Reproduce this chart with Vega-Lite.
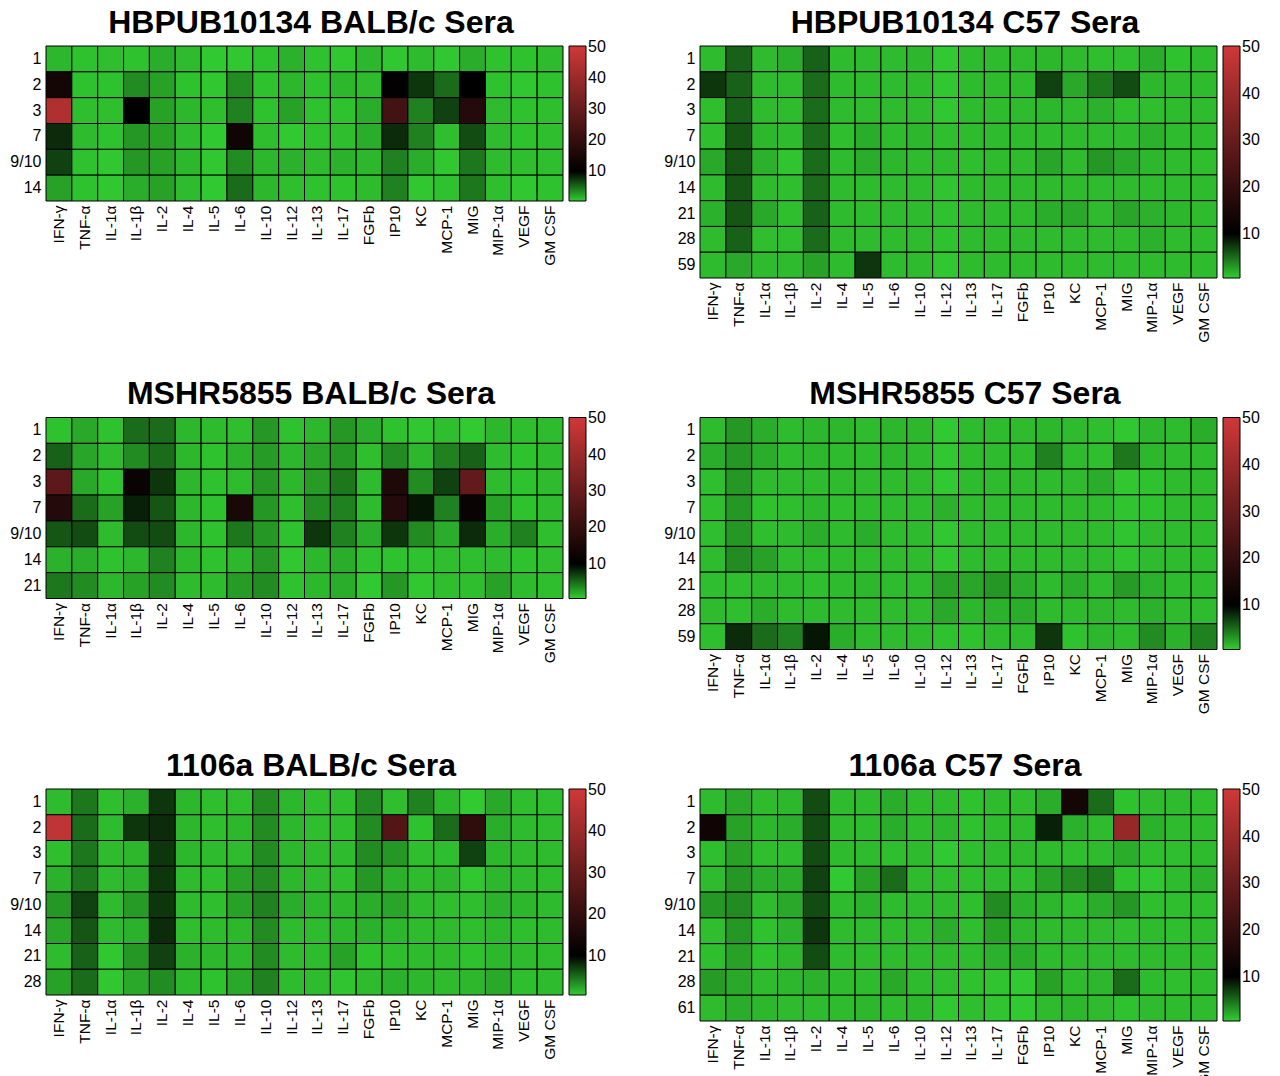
{
  "$schema": "https://vega.github.io/schema/vega-lite/v6.json",
  "background": "white",
  "padding": {"left": 9, "top": 6, "right": 0, "bottom": 0},
  "config": {
    "font": "Liberation Sans",
    "view": {"stroke": null},
    "axis": {"labelColor": "#000", "ticks": false, "domain": false, "grid": false, "title": null},
    "axisX": {"labelAngle": 270, "labelFontSize": 15.5, "labelPadding": 4},
    "axisY": {"labelFontSize": 16, "labelPadding": 5},
    "title": {"fontSize": 32, "fontWeight": "bold", "color": "#000", "offset": 6, "dx": 6.5},
    "legend": {"title": null, "padding": 0, "offset": 6, "labelFontSize": 16, "labelColor": "#000", "labelOffset": 5, "labelOverlap": false, "labelBaseline": "middle", "gradientThickness": 17, "gradientStrokeColor": "#000", "gradientStrokeWidth": 1}
  },
  "datasets": {
    "hbBalb": [
      {"day":"1","cyt":"IFN-γ","v":1.5},{"day":"1","cyt":"TNF-α","v":1},{"day":"1","cyt":"IL-1α","v":1.2},{"day":"1","cyt":"IL-1β","v":1},{"day":"1","cyt":"IL-2","v":2},{"day":"1","cyt":"IL-4","v":1.3},{"day":"1","cyt":"IL-5","v":0.7},{"day":"1","cyt":"IL-6","v":0.8},{"day":"1","cyt":"IL-10","v":1},{"day":"1","cyt":"IL-12","v":1.8},{"day":"1","cyt":"IL-13","v":1},{"day":"1","cyt":"IL-17","v":0.8},{"day":"1","cyt":"FGFb","v":1.5},{"day":"1","cyt":"IP10","v":0.8},{"day":"1","cyt":"KC","v":1.3},{"day":"1","cyt":"MCP-1","v":0.8},{"day":"1","cyt":"MIG","v":2},{"day":"1","cyt":"MIP-1α","v":1},{"day":"1","cyt":"VEGF","v":1},{"day":"1","cyt":"GM CSF","v":1.3},
      {"day":"2","cyt":"IFN-γ","v":14},{"day":"2","cyt":"TNF-α","v":1},{"day":"2","cyt":"IL-1α","v":1},{"day":"2","cyt":"IL-1β","v":3.5},{"day":"2","cyt":"IL-2","v":2.5},{"day":"2","cyt":"IL-4","v":1},{"day":"2","cyt":"IL-5","v":0.8},{"day":"2","cyt":"IL-6","v":3.5},{"day":"2","cyt":"IL-10","v":1},{"day":"2","cyt":"IL-12","v":1.5},{"day":"2","cyt":"IL-13","v":1},{"day":"2","cyt":"IL-17","v":1.5},{"day":"2","cyt":"FGFb","v":1.3},{"day":"2","cyt":"IP10","v":10.5},{"day":"2","cyt":"KC","v":7.5},{"day":"2","cyt":"MCP-1","v":5},{"day":"2","cyt":"MIG","v":10},{"day":"2","cyt":"MIP-1α","v":1},{"day":"2","cyt":"VEGF","v":0.8},{"day":"2","cyt":"GM CSF","v":1},
      {"day":"3","cyt":"IFN-γ","v":44},{"day":"3","cyt":"TNF-α","v":1.2},{"day":"3","cyt":"IL-1α","v":1.2},{"day":"3","cyt":"IL-1β","v":10},{"day":"3","cyt":"IL-2","v":2.5},{"day":"3","cyt":"IL-4","v":1.5},{"day":"3","cyt":"IL-5","v":1.2},{"day":"3","cyt":"IL-6","v":4},{"day":"3","cyt":"IL-10","v":1},{"day":"3","cyt":"IL-12","v":2.5},{"day":"3","cyt":"IL-13","v":1},{"day":"3","cyt":"IL-17","v":1},{"day":"3","cyt":"FGFb","v":2},{"day":"3","cyt":"IP10","v":23},{"day":"3","cyt":"KC","v":4},{"day":"3","cyt":"MCP-1","v":7},{"day":"3","cyt":"MIG","v":17},{"day":"3","cyt":"MIP-1α","v":1.3},{"day":"3","cyt":"VEGF","v":1},{"day":"3","cyt":"GM CSF","v":1.2},
      {"day":"7","cyt":"IFN-γ","v":8},{"day":"7","cyt":"TNF-α","v":1.3},{"day":"7","cyt":"IL-1α","v":1},{"day":"7","cyt":"IL-1β","v":3},{"day":"7","cyt":"IL-2","v":2.5},{"day":"7","cyt":"IL-4","v":1.3},{"day":"7","cyt":"IL-5","v":0.7},{"day":"7","cyt":"IL-6","v":13},{"day":"7","cyt":"IL-10","v":1.2},{"day":"7","cyt":"IL-12","v":0.7},{"day":"7","cyt":"IL-13","v":1},{"day":"7","cyt":"IL-17","v":1.2},{"day":"7","cyt":"FGFb","v":2},{"day":"7","cyt":"IP10","v":8},{"day":"7","cyt":"KC","v":4},{"day":"7","cyt":"MCP-1","v":1.2},{"day":"7","cyt":"MIG","v":6.5},{"day":"7","cyt":"MIP-1α","v":1.3},{"day":"7","cyt":"VEGF","v":1},{"day":"7","cyt":"GM CSF","v":1.2},
      {"day":"9/10","cyt":"IFN-γ","v":7},{"day":"9/10","cyt":"TNF-α","v":1},{"day":"9/10","cyt":"IL-1α","v":0.8},{"day":"9/10","cyt":"IL-1β","v":3},{"day":"9/10","cyt":"IL-2","v":2.5},{"day":"9/10","cyt":"IL-4","v":1.5},{"day":"9/10","cyt":"IL-5","v":0.8},{"day":"9/10","cyt":"IL-6","v":3.5},{"day":"9/10","cyt":"IL-10","v":1.5},{"day":"9/10","cyt":"IL-12","v":1.8},{"day":"9/10","cyt":"IL-13","v":1.3},{"day":"9/10","cyt":"IL-17","v":1.8},{"day":"9/10","cyt":"FGFb","v":1.5},{"day":"9/10","cyt":"IP10","v":4},{"day":"9/10","cyt":"KC","v":2},{"day":"9/10","cyt":"MCP-1","v":0.8},{"day":"9/10","cyt":"MIG","v":4.5},{"day":"9/10","cyt":"MIP-1α","v":1.3},{"day":"9/10","cyt":"VEGF","v":1.2},{"day":"9/10","cyt":"GM CSF","v":1.2},
      {"day":"14","cyt":"IFN-γ","v":2.5},{"day":"14","cyt":"TNF-α","v":1},{"day":"14","cyt":"IL-1α","v":0.8},{"day":"14","cyt":"IL-1β","v":2},{"day":"14","cyt":"IL-2","v":2.5},{"day":"14","cyt":"IL-4","v":1.3},{"day":"14","cyt":"IL-5","v":0.7},{"day":"14","cyt":"IL-6","v":5},{"day":"14","cyt":"IL-10","v":1.5},{"day":"14","cyt":"IL-12","v":1.2},{"day":"14","cyt":"IL-13","v":1},{"day":"14","cyt":"IL-17","v":1},{"day":"14","cyt":"FGFb","v":1.3},{"day":"14","cyt":"IP10","v":4},{"day":"14","cyt":"KC","v":0.8},{"day":"14","cyt":"MCP-1","v":1},{"day":"14","cyt":"MIG","v":4.5},{"day":"14","cyt":"MIP-1α","v":1.2},{"day":"14","cyt":"VEGF","v":0.8},{"day":"14","cyt":"GM CSF","v":1}
    ],
    "hbC57": [
      {"day":"1","cyt":"IFN-γ","v":1.3},{"day":"1","cyt":"TNF-α","v":5.5},{"day":"1","cyt":"IL-1α","v":1.3},{"day":"1","cyt":"IL-1β","v":2},{"day":"1","cyt":"IL-2","v":5.5},{"day":"1","cyt":"IL-4","v":1.3},{"day":"1","cyt":"IL-5","v":1.3},{"day":"1","cyt":"IL-6","v":1.3},{"day":"1","cyt":"IL-10","v":1.5},{"day":"1","cyt":"IL-12","v":0.7},{"day":"1","cyt":"IL-13","v":1.3},{"day":"1","cyt":"IL-17","v":1.3},{"day":"1","cyt":"FGFb","v":1.3},{"day":"1","cyt":"IP10","v":1.5},{"day":"1","cyt":"KC","v":1.3},{"day":"1","cyt":"MCP-1","v":1.2},{"day":"1","cyt":"MIG","v":1.2},{"day":"1","cyt":"MIP-1α","v":2},{"day":"1","cyt":"VEGF","v":1},{"day":"1","cyt":"GM CSF","v":1.3},
      {"day":"2","cyt":"IFN-γ","v":7.5},{"day":"2","cyt":"TNF-α","v":5.5},{"day":"2","cyt":"IL-1α","v":1.3},{"day":"2","cyt":"IL-1β","v":1.3},{"day":"2","cyt":"IL-2","v":5},{"day":"2","cyt":"IL-4","v":1.3},{"day":"2","cyt":"IL-5","v":1.3},{"day":"2","cyt":"IL-6","v":1.3},{"day":"2","cyt":"IL-10","v":1.3},{"day":"2","cyt":"IL-12","v":0.8},{"day":"2","cyt":"IL-13","v":1.3},{"day":"2","cyt":"IL-17","v":1.3},{"day":"2","cyt":"FGFb","v":1.3},{"day":"2","cyt":"IP10","v":7},{"day":"2","cyt":"KC","v":2.2},{"day":"2","cyt":"MCP-1","v":4.5},{"day":"2","cyt":"MIG","v":6.5},{"day":"2","cyt":"MIP-1α","v":1.5},{"day":"2","cyt":"VEGF","v":1.3},{"day":"2","cyt":"GM CSF","v":1.3},
      {"day":"3","cyt":"IFN-γ","v":1.2},{"day":"3","cyt":"TNF-α","v":5.5},{"day":"3","cyt":"IL-1α","v":1.3},{"day":"3","cyt":"IL-1β","v":1.3},{"day":"3","cyt":"IL-2","v":5},{"day":"3","cyt":"IL-4","v":1.3},{"day":"3","cyt":"IL-5","v":1.3},{"day":"3","cyt":"IL-6","v":1.3},{"day":"3","cyt":"IL-10","v":1.3},{"day":"3","cyt":"IL-12","v":0.8},{"day":"3","cyt":"IL-13","v":1.3},{"day":"3","cyt":"IL-17","v":1.3},{"day":"3","cyt":"FGFb","v":1.3},{"day":"3","cyt":"IP10","v":1.5},{"day":"3","cyt":"KC","v":1.3},{"day":"3","cyt":"MCP-1","v":1.8},{"day":"3","cyt":"MIG","v":1.2},{"day":"3","cyt":"MIP-1α","v":1.2},{"day":"3","cyt":"VEGF","v":1.3},{"day":"3","cyt":"GM CSF","v":1.3},
      {"day":"7","cyt":"IFN-γ","v":1.2},{"day":"7","cyt":"TNF-α","v":6},{"day":"7","cyt":"IL-1α","v":1.5},{"day":"7","cyt":"IL-1β","v":1.3},{"day":"7","cyt":"IL-2","v":5},{"day":"7","cyt":"IL-4","v":1.2},{"day":"7","cyt":"IL-5","v":2},{"day":"7","cyt":"IL-6","v":1.3},{"day":"7","cyt":"IL-10","v":1.5},{"day":"7","cyt":"IL-12","v":1.2},{"day":"7","cyt":"IL-13","v":1.3},{"day":"7","cyt":"IL-17","v":1.3},{"day":"7","cyt":"FGFb","v":1.3},{"day":"7","cyt":"IP10","v":1.3},{"day":"7","cyt":"KC","v":1.3},{"day":"7","cyt":"MCP-1","v":1.3},{"day":"7","cyt":"MIG","v":1.3},{"day":"7","cyt":"MIP-1α","v":1.8},{"day":"7","cyt":"VEGF","v":1.3},{"day":"7","cyt":"GM CSF","v":1.3},
      {"day":"9/10","cyt":"IFN-γ","v":2.2},{"day":"9/10","cyt":"TNF-α","v":6},{"day":"9/10","cyt":"IL-1α","v":1.8},{"day":"9/10","cyt":"IL-1β","v":0.9},{"day":"9/10","cyt":"IL-2","v":5},{"day":"9/10","cyt":"IL-4","v":1.3},{"day":"9/10","cyt":"IL-5","v":2},{"day":"9/10","cyt":"IL-6","v":1.5},{"day":"9/10","cyt":"IL-10","v":1.3},{"day":"9/10","cyt":"IL-12","v":1.3},{"day":"9/10","cyt":"IL-13","v":1.2},{"day":"9/10","cyt":"IL-17","v":1.3},{"day":"9/10","cyt":"FGFb","v":1.3},{"day":"9/10","cyt":"IP10","v":2.3},{"day":"9/10","cyt":"KC","v":1.3},{"day":"9/10","cyt":"MCP-1","v":3},{"day":"9/10","cyt":"MIG","v":2.2},{"day":"9/10","cyt":"MIP-1α","v":1.5},{"day":"9/10","cyt":"VEGF","v":1.3},{"day":"9/10","cyt":"GM CSF","v":1.2},
      {"day":"14","cyt":"IFN-γ","v":1.3},{"day":"14","cyt":"TNF-α","v":6},{"day":"14","cyt":"IL-1α","v":1.3},{"day":"14","cyt":"IL-1β","v":1.2},{"day":"14","cyt":"IL-2","v":5},{"day":"14","cyt":"IL-4","v":1.3},{"day":"14","cyt":"IL-5","v":1.3},{"day":"14","cyt":"IL-6","v":1.3},{"day":"14","cyt":"IL-10","v":1.3},{"day":"14","cyt":"IL-12","v":0.9},{"day":"14","cyt":"IL-13","v":1.3},{"day":"14","cyt":"IL-17","v":1.3},{"day":"14","cyt":"FGFb","v":1.3},{"day":"14","cyt":"IP10","v":1.3},{"day":"14","cyt":"KC","v":1.3},{"day":"14","cyt":"MCP-1","v":1.3},{"day":"14","cyt":"MIG","v":1.3},{"day":"14","cyt":"MIP-1α","v":1.3},{"day":"14","cyt":"VEGF","v":1.3},{"day":"14","cyt":"GM CSF","v":1.3},
      {"day":"21","cyt":"IFN-γ","v":1.8},{"day":"21","cyt":"TNF-α","v":6},{"day":"21","cyt":"IL-1α","v":2.2},{"day":"21","cyt":"IL-1β","v":1.2},{"day":"21","cyt":"IL-2","v":5.5},{"day":"21","cyt":"IL-4","v":1.3},{"day":"21","cyt":"IL-5","v":1.3},{"day":"21","cyt":"IL-6","v":1.3},{"day":"21","cyt":"IL-10","v":1.3},{"day":"21","cyt":"IL-12","v":1},{"day":"21","cyt":"IL-13","v":1.3},{"day":"21","cyt":"IL-17","v":1.3},{"day":"21","cyt":"FGFb","v":1.3},{"day":"21","cyt":"IP10","v":2},{"day":"21","cyt":"KC","v":2.2},{"day":"21","cyt":"MCP-1","v":1.3},{"day":"21","cyt":"MIG","v":2.3},{"day":"21","cyt":"MIP-1α","v":1.8},{"day":"21","cyt":"VEGF","v":1.5},{"day":"21","cyt":"GM CSF","v":1.3},
      {"day":"28","cyt":"IFN-γ","v":1.3},{"day":"28","cyt":"TNF-α","v":5.5},{"day":"28","cyt":"IL-1α","v":1.2},{"day":"28","cyt":"IL-1β","v":1.2},{"day":"28","cyt":"IL-2","v":5},{"day":"28","cyt":"IL-4","v":1.3},{"day":"28","cyt":"IL-5","v":1.3},{"day":"28","cyt":"IL-6","v":1.3},{"day":"28","cyt":"IL-10","v":1.3},{"day":"28","cyt":"IL-12","v":1},{"day":"28","cyt":"IL-13","v":1.3},{"day":"28","cyt":"IL-17","v":1.3},{"day":"28","cyt":"FGFb","v":1.3},{"day":"28","cyt":"IP10","v":1.3},{"day":"28","cyt":"KC","v":1.3},{"day":"28","cyt":"MCP-1","v":1.3},{"day":"28","cyt":"MIG","v":1.3},{"day":"28","cyt":"MIP-1α","v":1.8},{"day":"28","cyt":"VEGF","v":1.3},{"day":"28","cyt":"GM CSF","v":1.3},
      {"day":"59","cyt":"IFN-γ","v":1.3},{"day":"59","cyt":"TNF-α","v":2.2},{"day":"59","cyt":"IL-1α","v":1.3},{"day":"59","cyt":"IL-1β","v":1.3},{"day":"59","cyt":"IL-2","v":2.5},{"day":"59","cyt":"IL-4","v":1.3},{"day":"59","cyt":"IL-5","v":7.5},{"day":"59","cyt":"IL-6","v":1.3},{"day":"59","cyt":"IL-10","v":1.3},{"day":"59","cyt":"IL-12","v":0.8},{"day":"59","cyt":"IL-13","v":1.3},{"day":"59","cyt":"IL-17","v":1.3},{"day":"59","cyt":"FGFb","v":1.3},{"day":"59","cyt":"IP10","v":1.3},{"day":"59","cyt":"KC","v":1.3},{"day":"59","cyt":"MCP-1","v":1.3},{"day":"59","cyt":"MIG","v":1.3},{"day":"59","cyt":"MIP-1α","v":1.3},{"day":"59","cyt":"VEGF","v":1.3},{"day":"59","cyt":"GM CSF","v":1.3}
    ],
    "mshrBalb": [
      {"day":"1","cyt":"IFN-γ","v":1},{"day":"1","cyt":"TNF-α","v":2.2},{"day":"1","cyt":"IL-1α","v":1},{"day":"1","cyt":"IL-1β","v":5},{"day":"1","cyt":"IL-2","v":5},{"day":"1","cyt":"IL-4","v":1.5},{"day":"1","cyt":"IL-5","v":1.3},{"day":"1","cyt":"IL-6","v":1.2},{"day":"1","cyt":"IL-10","v":3},{"day":"1","cyt":"IL-12","v":1},{"day":"1","cyt":"IL-13","v":1.5},{"day":"1","cyt":"IL-17","v":3},{"day":"1","cyt":"FGFb","v":2},{"day":"1","cyt":"IP10","v":1},{"day":"1","cyt":"KC","v":0.8},{"day":"1","cyt":"MCP-1","v":1.2},{"day":"1","cyt":"MIG","v":0.6},{"day":"1","cyt":"MIP-1α","v":1.5},{"day":"1","cyt":"VEGF","v":1.2},{"day":"1","cyt":"GM CSF","v":1.3},
      {"day":"2","cyt":"IFN-γ","v":5.5},{"day":"2","cyt":"TNF-α","v":2.3},{"day":"2","cyt":"IL-1α","v":1.3},{"day":"2","cyt":"IL-1β","v":3.5},{"day":"2","cyt":"IL-2","v":5},{"day":"2","cyt":"IL-4","v":1.5},{"day":"2","cyt":"IL-5","v":1},{"day":"2","cyt":"IL-6","v":1.8},{"day":"2","cyt":"IL-10","v":2.8},{"day":"2","cyt":"IL-12","v":1.5},{"day":"2","cyt":"IL-13","v":2.3},{"day":"2","cyt":"IL-17","v":3},{"day":"2","cyt":"FGFb","v":1.2},{"day":"2","cyt":"IP10","v":3.5},{"day":"2","cyt":"KC","v":1.5},{"day":"2","cyt":"MCP-1","v":4},{"day":"2","cyt":"MIG","v":5.5},{"day":"2","cyt":"MIP-1α","v":1.3},{"day":"2","cyt":"VEGF","v":1},{"day":"2","cyt":"GM CSF","v":1.3},
      {"day":"3","cyt":"IFN-γ","v":28},{"day":"3","cyt":"TNF-α","v":2.2},{"day":"3","cyt":"IL-1α","v":1},{"day":"3","cyt":"IL-1β","v":12},{"day":"3","cyt":"IL-2","v":7.5},{"day":"3","cyt":"IL-4","v":1.5},{"day":"3","cyt":"IL-5","v":1},{"day":"3","cyt":"IL-6","v":1.3},{"day":"3","cyt":"IL-10","v":3},{"day":"3","cyt":"IL-12","v":1.5},{"day":"3","cyt":"IL-13","v":2.8},{"day":"3","cyt":"IL-17","v":4.5},{"day":"3","cyt":"FGFb","v":1.3},{"day":"3","cyt":"IP10","v":16},{"day":"3","cyt":"KC","v":3.5},{"day":"3","cyt":"MCP-1","v":7},{"day":"3","cyt":"MIG","v":29},{"day":"3","cyt":"MIP-1α","v":1.3},{"day":"3","cyt":"VEGF","v":1},{"day":"3","cyt":"GM CSF","v":1.3},
      {"day":"7","cyt":"IFN-γ","v":17},{"day":"7","cyt":"TNF-α","v":5},{"day":"7","cyt":"IL-1α","v":2.5},{"day":"7","cyt":"IL-1β","v":8.5},{"day":"7","cyt":"IL-2","v":6},{"day":"7","cyt":"IL-4","v":1.5},{"day":"7","cyt":"IL-5","v":1},{"day":"7","cyt":"IL-6","v":15},{"day":"7","cyt":"IL-10","v":3},{"day":"7","cyt":"IL-12","v":1.2},{"day":"7","cyt":"IL-13","v":3.5},{"day":"7","cyt":"IL-17","v":4},{"day":"7","cyt":"FGFb","v":1.3},{"day":"7","cyt":"IP10","v":17},{"day":"7","cyt":"KC","v":9},{"day":"7","cyt":"MCP-1","v":4},{"day":"7","cyt":"MIG","v":12},{"day":"7","cyt":"MIP-1α","v":2.5},{"day":"7","cyt":"VEGF","v":1},{"day":"7","cyt":"GM CSF","v":1.3},
      {"day":"9/10","cyt":"IFN-γ","v":6},{"day":"9/10","cyt":"TNF-α","v":6.5},{"day":"9/10","cyt":"IL-1α","v":1.3},{"day":"9/10","cyt":"IL-1β","v":6.5},{"day":"9/10","cyt":"IL-2","v":6.5},{"day":"9/10","cyt":"IL-4","v":1.5},{"day":"9/10","cyt":"IL-5","v":1},{"day":"9/10","cyt":"IL-6","v":4.5},{"day":"9/10","cyt":"IL-10","v":3},{"day":"9/10","cyt":"IL-12","v":1},{"day":"9/10","cyt":"IL-13","v":7.5},{"day":"9/10","cyt":"IL-17","v":4},{"day":"9/10","cyt":"FGFb","v":2},{"day":"9/10","cyt":"IP10","v":7.5},{"day":"9/10","cyt":"KC","v":3.5},{"day":"9/10","cyt":"MCP-1","v":2},{"day":"9/10","cyt":"MIG","v":8},{"day":"9/10","cyt":"MIP-1α","v":2},{"day":"9/10","cyt":"VEGF","v":4},{"day":"9/10","cyt":"GM CSF","v":1.2},
      {"day":"14","cyt":"IFN-γ","v":1.8},{"day":"14","cyt":"TNF-α","v":2},{"day":"14","cyt":"IL-1α","v":1},{"day":"14","cyt":"IL-1β","v":1.5},{"day":"14","cyt":"IL-2","v":4},{"day":"14","cyt":"IL-4","v":1.5},{"day":"14","cyt":"IL-5","v":1},{"day":"14","cyt":"IL-6","v":1.5},{"day":"14","cyt":"IL-10","v":3},{"day":"14","cyt":"IL-12","v":0.8},{"day":"14","cyt":"IL-13","v":1.5},{"day":"14","cyt":"IL-17","v":2},{"day":"14","cyt":"FGFb","v":1},{"day":"14","cyt":"IP10","v":1},{"day":"14","cyt":"KC","v":1},{"day":"14","cyt":"MCP-1","v":1.2},{"day":"14","cyt":"MIG","v":1.2},{"day":"14","cyt":"MIP-1α","v":1.3},{"day":"14","cyt":"VEGF","v":1},{"day":"14","cyt":"GM CSF","v":1.2},
      {"day":"21","cyt":"IFN-γ","v":4.5},{"day":"21","cyt":"TNF-α","v":3.5},{"day":"21","cyt":"IL-1α","v":1.5},{"day":"21","cyt":"IL-1β","v":2.5},{"day":"21","cyt":"IL-2","v":3.5},{"day":"21","cyt":"IL-4","v":1.3},{"day":"21","cyt":"IL-5","v":1.3},{"day":"21","cyt":"IL-6","v":2.8},{"day":"21","cyt":"IL-10","v":3.5},{"day":"21","cyt":"IL-12","v":1},{"day":"21","cyt":"IL-13","v":1.5},{"day":"21","cyt":"IL-17","v":2},{"day":"21","cyt":"FGFb","v":0.7},{"day":"21","cyt":"IP10","v":3},{"day":"21","cyt":"KC","v":0.8},{"day":"21","cyt":"MCP-1","v":1.2},{"day":"21","cyt":"MIG","v":1.2},{"day":"21","cyt":"MIP-1α","v":2.5},{"day":"21","cyt":"VEGF","v":1.3},{"day":"21","cyt":"GM CSF","v":1.2}
    ],
    "mshrC57": [
      {"day":"1","cyt":"IFN-γ","v":1.3},{"day":"1","cyt":"TNF-α","v":3},{"day":"1","cyt":"IL-1α","v":2},{"day":"1","cyt":"IL-1β","v":1.3},{"day":"1","cyt":"IL-2","v":1.5},{"day":"1","cyt":"IL-4","v":1.5},{"day":"1","cyt":"IL-5","v":1.3},{"day":"1","cyt":"IL-6","v":1.5},{"day":"1","cyt":"IL-10","v":1.5},{"day":"1","cyt":"IL-12","v":0.7},{"day":"1","cyt":"IL-13","v":1.3},{"day":"1","cyt":"IL-17","v":1.3},{"day":"1","cyt":"FGFb","v":1.3},{"day":"1","cyt":"IP10","v":1.5},{"day":"1","cyt":"KC","v":1.3},{"day":"1","cyt":"MCP-1","v":1.2},{"day":"1","cyt":"MIG","v":0.8},{"day":"1","cyt":"MIP-1α","v":1.5},{"day":"1","cyt":"VEGF","v":1.3},{"day":"1","cyt":"GM CSF","v":2},
      {"day":"2","cyt":"IFN-γ","v":2},{"day":"2","cyt":"TNF-α","v":3},{"day":"2","cyt":"IL-1α","v":2},{"day":"2","cyt":"IL-1β","v":1.3},{"day":"2","cyt":"IL-2","v":1.5},{"day":"2","cyt":"IL-4","v":1.3},{"day":"2","cyt":"IL-5","v":1.3},{"day":"2","cyt":"IL-6","v":1.5},{"day":"2","cyt":"IL-10","v":1.3},{"day":"2","cyt":"IL-12","v":0.8},{"day":"2","cyt":"IL-13","v":1.3},{"day":"2","cyt":"IL-17","v":1.3},{"day":"2","cyt":"FGFb","v":1.3},{"day":"2","cyt":"IP10","v":4},{"day":"2","cyt":"KC","v":1.3},{"day":"2","cyt":"MCP-1","v":1.2},{"day":"2","cyt":"MIG","v":4.5},{"day":"2","cyt":"MIP-1α","v":1.5},{"day":"2","cyt":"VEGF","v":1.3},{"day":"2","cyt":"GM CSF","v":1.3},
      {"day":"3","cyt":"IFN-γ","v":1.2},{"day":"3","cyt":"TNF-α","v":3},{"day":"3","cyt":"IL-1α","v":1.3},{"day":"3","cyt":"IL-1β","v":1.3},{"day":"3","cyt":"IL-2","v":1.3},{"day":"3","cyt":"IL-4","v":1.3},{"day":"3","cyt":"IL-5","v":1.3},{"day":"3","cyt":"IL-6","v":1.3},{"day":"3","cyt":"IL-10","v":1.3},{"day":"3","cyt":"IL-12","v":0.7},{"day":"3","cyt":"IL-13","v":1.3},{"day":"3","cyt":"IL-17","v":1.3},{"day":"3","cyt":"FGFb","v":1.3},{"day":"3","cyt":"IP10","v":1.3},{"day":"3","cyt":"KC","v":1.3},{"day":"3","cyt":"MCP-1","v":2},{"day":"3","cyt":"MIG","v":0.8},{"day":"3","cyt":"MIP-1α","v":1},{"day":"3","cyt":"VEGF","v":1.3},{"day":"3","cyt":"GM CSF","v":1.3},
      {"day":"7","cyt":"IFN-γ","v":1.2},{"day":"7","cyt":"TNF-α","v":3},{"day":"7","cyt":"IL-1α","v":1},{"day":"7","cyt":"IL-1β","v":1.2},{"day":"7","cyt":"IL-2","v":1.5},{"day":"7","cyt":"IL-4","v":1.2},{"day":"7","cyt":"IL-5","v":1.3},{"day":"7","cyt":"IL-6","v":1.3},{"day":"7","cyt":"IL-10","v":1.3},{"day":"7","cyt":"IL-12","v":1.8},{"day":"7","cyt":"IL-13","v":1.3},{"day":"7","cyt":"IL-17","v":1.3},{"day":"7","cyt":"FGFb","v":1.3},{"day":"7","cyt":"IP10","v":1.3},{"day":"7","cyt":"KC","v":1.3},{"day":"7","cyt":"MCP-1","v":1.3},{"day":"7","cyt":"MIG","v":0.9},{"day":"7","cyt":"MIP-1α","v":1},{"day":"7","cyt":"VEGF","v":1.3},{"day":"7","cyt":"GM CSF","v":1.3},
      {"day":"9/10","cyt":"IFN-γ","v":1.2},{"day":"9/10","cyt":"TNF-α","v":3},{"day":"9/10","cyt":"IL-1α","v":1.2},{"day":"9/10","cyt":"IL-1β","v":1.3},{"day":"9/10","cyt":"IL-2","v":2},{"day":"9/10","cyt":"IL-4","v":1.3},{"day":"9/10","cyt":"IL-5","v":2},{"day":"9/10","cyt":"IL-6","v":1.3},{"day":"9/10","cyt":"IL-10","v":1.3},{"day":"9/10","cyt":"IL-12","v":0.8},{"day":"9/10","cyt":"IL-13","v":1.3},{"day":"9/10","cyt":"IL-17","v":1.3},{"day":"9/10","cyt":"FGFb","v":1.3},{"day":"9/10","cyt":"IP10","v":1.3},{"day":"9/10","cyt":"KC","v":1.3},{"day":"9/10","cyt":"MCP-1","v":1.3},{"day":"9/10","cyt":"MIG","v":0.9},{"day":"9/10","cyt":"MIP-1α","v":1.3},{"day":"9/10","cyt":"VEGF","v":1.3},{"day":"9/10","cyt":"GM CSF","v":1.3},
      {"day":"14","cyt":"IFN-γ","v":1.3},{"day":"14","cyt":"TNF-α","v":3.5},{"day":"14","cyt":"IL-1α","v":2.5},{"day":"14","cyt":"IL-1β","v":1.3},{"day":"14","cyt":"IL-2","v":1.3},{"day":"14","cyt":"IL-4","v":1.3},{"day":"14","cyt":"IL-5","v":1.3},{"day":"14","cyt":"IL-6","v":1.3},{"day":"14","cyt":"IL-10","v":1.3},{"day":"14","cyt":"IL-12","v":0.8},{"day":"14","cyt":"IL-13","v":1.3},{"day":"14","cyt":"IL-17","v":1.3},{"day":"14","cyt":"FGFb","v":1.3},{"day":"14","cyt":"IP10","v":1.3},{"day":"14","cyt":"KC","v":1.3},{"day":"14","cyt":"MCP-1","v":1.3},{"day":"14","cyt":"MIG","v":0.9},{"day":"14","cyt":"MIP-1α","v":1.3},{"day":"14","cyt":"VEGF","v":1.3},{"day":"14","cyt":"GM CSF","v":1.3},
      {"day":"21","cyt":"IFN-γ","v":1.2},{"day":"21","cyt":"TNF-α","v":1.2},{"day":"21","cyt":"IL-1α","v":1.3},{"day":"21","cyt":"IL-1β","v":1.3},{"day":"21","cyt":"IL-2","v":1.2},{"day":"21","cyt":"IL-4","v":1.3},{"day":"21","cyt":"IL-5","v":1.5},{"day":"21","cyt":"IL-6","v":1.3},{"day":"21","cyt":"IL-10","v":1.3},{"day":"21","cyt":"IL-12","v":2.5},{"day":"21","cyt":"IL-13","v":2.3},{"day":"21","cyt":"IL-17","v":3},{"day":"21","cyt":"FGFb","v":2},{"day":"21","cyt":"IP10","v":1.3},{"day":"21","cyt":"KC","v":2},{"day":"21","cyt":"MCP-1","v":1.3},{"day":"21","cyt":"MIG","v":2.8},{"day":"21","cyt":"MIP-1α","v":1.8},{"day":"21","cyt":"VEGF","v":1.3},{"day":"21","cyt":"GM CSF","v":1.3},
      {"day":"28","cyt":"IFN-γ","v":1.3},{"day":"28","cyt":"TNF-α","v":1.2},{"day":"28","cyt":"IL-1α","v":2},{"day":"28","cyt":"IL-1β","v":1.3},{"day":"28","cyt":"IL-2","v":1.3},{"day":"28","cyt":"IL-4","v":1.3},{"day":"28","cyt":"IL-5","v":1.3},{"day":"28","cyt":"IL-6","v":1.3},{"day":"28","cyt":"IL-10","v":1.3},{"day":"28","cyt":"IL-12","v":2.2},{"day":"28","cyt":"IL-13","v":1.5},{"day":"28","cyt":"IL-17","v":1.8},{"day":"28","cyt":"FGFb","v":2},{"day":"28","cyt":"IP10","v":1.3},{"day":"28","cyt":"KC","v":1.3},{"day":"28","cyt":"MCP-1","v":1.5},{"day":"28","cyt":"MIG","v":1.3},{"day":"28","cyt":"MIP-1α","v":1.8},{"day":"28","cyt":"VEGF","v":1.3},{"day":"28","cyt":"GM CSF","v":1.3},
      {"day":"59","cyt":"IFN-γ","v":1.2},{"day":"59","cyt":"TNF-α","v":8},{"day":"59","cyt":"IL-1α","v":5},{"day":"59","cyt":"IL-1β","v":4},{"day":"59","cyt":"IL-2","v":9},{"day":"59","cyt":"IL-4","v":2},{"day":"59","cyt":"IL-5","v":1.3},{"day":"59","cyt":"IL-6","v":1.3},{"day":"59","cyt":"IL-10","v":1.3},{"day":"59","cyt":"IL-12","v":1},{"day":"59","cyt":"IL-13","v":1},{"day":"59","cyt":"IL-17","v":1.3},{"day":"59","cyt":"FGFb","v":1.3},{"day":"59","cyt":"IP10","v":7.5},{"day":"59","cyt":"KC","v":1},{"day":"59","cyt":"MCP-1","v":1.5},{"day":"59","cyt":"MIG","v":1.3},{"day":"59","cyt":"MIP-1α","v":3.5},{"day":"59","cyt":"VEGF","v":1.8},{"day":"59","cyt":"GM CSF","v":4}
    ],
    "b1106Balb": [
      {"day":"1","cyt":"IFN-γ","v":1.3},{"day":"1","cyt":"TNF-α","v":4.5},{"day":"1","cyt":"IL-1α","v":1.2},{"day":"1","cyt":"IL-1β","v":1.8},{"day":"1","cyt":"IL-2","v":7.5},{"day":"1","cyt":"IL-4","v":1.5},{"day":"1","cyt":"IL-5","v":1.2},{"day":"1","cyt":"IL-6","v":1.2},{"day":"1","cyt":"IL-10","v":3.5},{"day":"1","cyt":"IL-12","v":1.5},{"day":"1","cyt":"IL-13","v":1.2},{"day":"1","cyt":"IL-17","v":1.2},{"day":"1","cyt":"FGFb","v":3.5},{"day":"1","cyt":"IP10","v":1.2},{"day":"1","cyt":"KC","v":4},{"day":"1","cyt":"MCP-1","v":1.5},{"day":"1","cyt":"MIG","v":0.6},{"day":"1","cyt":"MIP-1α","v":2.2},{"day":"1","cyt":"VEGF","v":1.2},{"day":"1","cyt":"GM CSF","v":1.2},
      {"day":"2","cyt":"IFN-γ","v":47},{"day":"2","cyt":"TNF-α","v":5},{"day":"2","cyt":"IL-1α","v":1.3},{"day":"2","cyt":"IL-1β","v":7.5},{"day":"2","cyt":"IL-2","v":8},{"day":"2","cyt":"IL-4","v":1.5},{"day":"2","cyt":"IL-5","v":1.2},{"day":"2","cyt":"IL-6","v":1.5},{"day":"2","cyt":"IL-10","v":3.5},{"day":"2","cyt":"IL-12","v":1.5},{"day":"2","cyt":"IL-13","v":1.2},{"day":"2","cyt":"IL-17","v":1.2},{"day":"2","cyt":"FGFb","v":3.5},{"day":"2","cyt":"IP10","v":26},{"day":"2","cyt":"KC","v":1},{"day":"2","cyt":"MCP-1","v":5},{"day":"2","cyt":"MIG","v":19},{"day":"2","cyt":"MIP-1α","v":2},{"day":"2","cyt":"VEGF","v":1.3},{"day":"2","cyt":"GM CSF","v":1.3},
      {"day":"3","cyt":"IFN-γ","v":1.2},{"day":"3","cyt":"TNF-α","v":4.5},{"day":"3","cyt":"IL-1α","v":1.3},{"day":"3","cyt":"IL-1β","v":1.5},{"day":"3","cyt":"IL-2","v":7.5},{"day":"3","cyt":"IL-4","v":1.5},{"day":"3","cyt":"IL-5","v":1.3},{"day":"3","cyt":"IL-6","v":1.3},{"day":"3","cyt":"IL-10","v":3.5},{"day":"3","cyt":"IL-12","v":1.5},{"day":"3","cyt":"IL-13","v":1.3},{"day":"3","cyt":"IL-17","v":1.3},{"day":"3","cyt":"FGFb","v":3.5},{"day":"3","cyt":"IP10","v":3},{"day":"3","cyt":"KC","v":1.2},{"day":"3","cyt":"MCP-1","v":1.2},{"day":"3","cyt":"MIG","v":7},{"day":"3","cyt":"MIP-1α","v":1.5},{"day":"3","cyt":"VEGF","v":1.3},{"day":"3","cyt":"GM CSF","v":1.3},
      {"day":"7","cyt":"IFN-γ","v":1.8},{"day":"7","cyt":"TNF-α","v":4.5},{"day":"7","cyt":"IL-1α","v":1.3},{"day":"7","cyt":"IL-1β","v":1.8},{"day":"7","cyt":"IL-2","v":7.5},{"day":"7","cyt":"IL-4","v":1.3},{"day":"7","cyt":"IL-5","v":1.2},{"day":"7","cyt":"IL-6","v":2.5},{"day":"7","cyt":"IL-10","v":3.5},{"day":"7","cyt":"IL-12","v":1.5},{"day":"7","cyt":"IL-13","v":1.3},{"day":"7","cyt":"IL-17","v":1.2},{"day":"7","cyt":"FGFb","v":3},{"day":"7","cyt":"IP10","v":1.8},{"day":"7","cyt":"KC","v":1.3},{"day":"7","cyt":"MCP-1","v":1.5},{"day":"7","cyt":"MIG","v":0.8},{"day":"7","cyt":"MIP-1α","v":1.5},{"day":"7","cyt":"VEGF","v":1.3},{"day":"7","cyt":"GM CSF","v":1.3},
      {"day":"9/10","cyt":"IFN-γ","v":3},{"day":"9/10","cyt":"TNF-α","v":7},{"day":"9/10","cyt":"IL-1α","v":1.3},{"day":"9/10","cyt":"IL-1β","v":2.8},{"day":"9/10","cyt":"IL-2","v":7.5},{"day":"9/10","cyt":"IL-4","v":1.3},{"day":"9/10","cyt":"IL-5","v":1.2},{"day":"9/10","cyt":"IL-6","v":2.5},{"day":"9/10","cyt":"IL-10","v":4},{"day":"9/10","cyt":"IL-12","v":2},{"day":"9/10","cyt":"IL-13","v":1.5},{"day":"9/10","cyt":"IL-17","v":1.5},{"day":"9/10","cyt":"FGFb","v":2},{"day":"9/10","cyt":"IP10","v":2.3},{"day":"9/10","cyt":"KC","v":1.3},{"day":"9/10","cyt":"MCP-1","v":1.2},{"day":"9/10","cyt":"MIG","v":1.2},{"day":"9/10","cyt":"MIP-1α","v":1.8},{"day":"9/10","cyt":"VEGF","v":1.5},{"day":"9/10","cyt":"GM CSF","v":1.3},
      {"day":"14","cyt":"IFN-γ","v":2.3},{"day":"14","cyt":"TNF-α","v":6},{"day":"14","cyt":"IL-1α","v":1.3},{"day":"14","cyt":"IL-1β","v":1.8},{"day":"14","cyt":"IL-2","v":8},{"day":"14","cyt":"IL-4","v":1.2},{"day":"14","cyt":"IL-5","v":1.3},{"day":"14","cyt":"IL-6","v":1.5},{"day":"14","cyt":"IL-10","v":3.5},{"day":"14","cyt":"IL-12","v":1.3},{"day":"14","cyt":"IL-13","v":1.3},{"day":"14","cyt":"IL-17","v":1.5},{"day":"14","cyt":"FGFb","v":1.8},{"day":"14","cyt":"IP10","v":1.5},{"day":"14","cyt":"KC","v":1.3},{"day":"14","cyt":"MCP-1","v":1.3},{"day":"14","cyt":"MIG","v":1.2},{"day":"14","cyt":"MIP-1α","v":1.5},{"day":"14","cyt":"VEGF","v":1.2},{"day":"14","cyt":"GM CSF","v":1.3},
      {"day":"21","cyt":"IFN-γ","v":1.3},{"day":"21","cyt":"TNF-α","v":5.5},{"day":"21","cyt":"IL-1α","v":0.8},{"day":"21","cyt":"IL-1β","v":3},{"day":"21","cyt":"IL-2","v":7},{"day":"21","cyt":"IL-4","v":1.8},{"day":"21","cyt":"IL-5","v":1.5},{"day":"21","cyt":"IL-6","v":1.5},{"day":"21","cyt":"IL-10","v":3.5},{"day":"21","cyt":"IL-12","v":1.3},{"day":"21","cyt":"IL-13","v":1.3},{"day":"21","cyt":"IL-17","v":2.5},{"day":"21","cyt":"FGFb","v":1},{"day":"21","cyt":"IP10","v":1.2},{"day":"21","cyt":"KC","v":1.3},{"day":"21","cyt":"MCP-1","v":1.3},{"day":"21","cyt":"MIG","v":1},{"day":"21","cyt":"MIP-1α","v":1.5},{"day":"21","cyt":"VEGF","v":1.3},{"day":"21","cyt":"GM CSF","v":1.3},
      {"day":"28","cyt":"IFN-γ","v":2.5},{"day":"28","cyt":"TNF-α","v":5},{"day":"28","cyt":"IL-1α","v":0.8},{"day":"28","cyt":"IL-1β","v":2.2},{"day":"28","cyt":"IL-2","v":3.5},{"day":"28","cyt":"IL-4","v":1.5},{"day":"28","cyt":"IL-5","v":1},{"day":"28","cyt":"IL-6","v":2.2},{"day":"28","cyt":"IL-10","v":4},{"day":"28","cyt":"IL-12","v":1.3},{"day":"28","cyt":"IL-13","v":1.3},{"day":"28","cyt":"IL-17","v":0.9},{"day":"28","cyt":"FGFb","v":1.3},{"day":"28","cyt":"IP10","v":1.8},{"day":"28","cyt":"KC","v":1.5},{"day":"28","cyt":"MCP-1","v":1.3},{"day":"28","cyt":"MIG","v":1.5},{"day":"28","cyt":"MIP-1α","v":2.2},{"day":"28","cyt":"VEGF","v":1.2},{"day":"28","cyt":"GM CSF","v":1.3}
    ],
    "b1106C57": [
      {"day":"1","cyt":"IFN-γ","v":1.3},{"day":"1","cyt":"TNF-α","v":2.2},{"day":"1","cyt":"IL-1α","v":1.3},{"day":"1","cyt":"IL-1β","v":1.5},{"day":"1","cyt":"IL-2","v":6.5},{"day":"1","cyt":"IL-4","v":1.3},{"day":"1","cyt":"IL-5","v":1.3},{"day":"1","cyt":"IL-6","v":2},{"day":"1","cyt":"IL-10","v":1.3},{"day":"1","cyt":"IL-12","v":1.3},{"day":"1","cyt":"IL-13","v":1},{"day":"1","cyt":"IL-17","v":1.3},{"day":"1","cyt":"FGFb","v":1.2},{"day":"1","cyt":"IP10","v":2},{"day":"1","cyt":"KC","v":14},{"day":"1","cyt":"MCP-1","v":5},{"day":"1","cyt":"MIG","v":1},{"day":"1","cyt":"MIP-1α","v":1.3},{"day":"1","cyt":"VEGF","v":1.3},{"day":"1","cyt":"GM CSF","v":1.2},
      {"day":"2","cyt":"IFN-γ","v":13},{"day":"2","cyt":"TNF-α","v":2.5},{"day":"2","cyt":"IL-1α","v":1.5},{"day":"2","cyt":"IL-1β","v":2},{"day":"2","cyt":"IL-2","v":6.5},{"day":"2","cyt":"IL-4","v":1.3},{"day":"2","cyt":"IL-5","v":1.3},{"day":"2","cyt":"IL-6","v":2},{"day":"2","cyt":"IL-10","v":1.3},{"day":"2","cyt":"IL-12","v":1.5},{"day":"2","cyt":"IL-13","v":1},{"day":"2","cyt":"IL-17","v":1.3},{"day":"2","cyt":"FGFb","v":1.3},{"day":"2","cyt":"IP10","v":8.5},{"day":"2","cyt":"KC","v":1.8},{"day":"2","cyt":"MCP-1","v":1.3},{"day":"2","cyt":"MIG","v":39},{"day":"2","cyt":"MIP-1α","v":1.8},{"day":"2","cyt":"VEGF","v":1.3},{"day":"2","cyt":"GM CSF","v":1.3},
      {"day":"3","cyt":"IFN-γ","v":1.2},{"day":"3","cyt":"TNF-α","v":2.5},{"day":"3","cyt":"IL-1α","v":1.2},{"day":"3","cyt":"IL-1β","v":1.3},{"day":"3","cyt":"IL-2","v":6.5},{"day":"3","cyt":"IL-4","v":1.3},{"day":"3","cyt":"IL-5","v":1.3},{"day":"3","cyt":"IL-6","v":1.2},{"day":"3","cyt":"IL-10","v":1.3},{"day":"3","cyt":"IL-12","v":0.7},{"day":"3","cyt":"IL-13","v":1.2},{"day":"3","cyt":"IL-17","v":1.3},{"day":"3","cyt":"FGFb","v":1.3},{"day":"3","cyt":"IP10","v":1.3},{"day":"3","cyt":"KC","v":1.2},{"day":"3","cyt":"MCP-1","v":1.3},{"day":"3","cyt":"MIG","v":2},{"day":"3","cyt":"MIP-1α","v":1.2},{"day":"3","cyt":"VEGF","v":1.2},{"day":"3","cyt":"GM CSF","v":1.3},
      {"day":"7","cyt":"IFN-γ","v":1.3},{"day":"7","cyt":"TNF-α","v":3},{"day":"7","cyt":"IL-1α","v":2},{"day":"7","cyt":"IL-1β","v":2},{"day":"7","cyt":"IL-2","v":7},{"day":"7","cyt":"IL-4","v":0.7},{"day":"7","cyt":"IL-5","v":2.5},{"day":"7","cyt":"IL-6","v":5},{"day":"7","cyt":"IL-10","v":1.3},{"day":"7","cyt":"IL-12","v":1.2},{"day":"7","cyt":"IL-13","v":1.2},{"day":"7","cyt":"IL-17","v":1.3},{"day":"7","cyt":"FGFb","v":1.2},{"day":"7","cyt":"IP10","v":2.5},{"day":"7","cyt":"KC","v":3.5},{"day":"7","cyt":"MCP-1","v":4.5},{"day":"7","cyt":"MIG","v":1},{"day":"7","cyt":"MIP-1α","v":0.8},{"day":"7","cyt":"VEGF","v":1.3},{"day":"7","cyt":"GM CSF","v":1.8},
      {"day":"9/10","cyt":"IFN-γ","v":3},{"day":"9/10","cyt":"TNF-α","v":3.5},{"day":"9/10","cyt":"IL-1α","v":1.3},{"day":"9/10","cyt":"IL-1β","v":2.2},{"day":"9/10","cyt":"IL-2","v":6.5},{"day":"9/10","cyt":"IL-4","v":1.3},{"day":"9/10","cyt":"IL-5","v":1.8},{"day":"9/10","cyt":"IL-6","v":1.3},{"day":"9/10","cyt":"IL-10","v":1.3},{"day":"9/10","cyt":"IL-12","v":1.3},{"day":"9/10","cyt":"IL-13","v":1.2},{"day":"9/10","cyt":"IL-17","v":3.5},{"day":"9/10","cyt":"FGFb","v":1.8},{"day":"9/10","cyt":"IP10","v":1.5},{"day":"9/10","cyt":"KC","v":1.2},{"day":"9/10","cyt":"MCP-1","v":2},{"day":"9/10","cyt":"MIG","v":3},{"day":"9/10","cyt":"MIP-1α","v":1.2},{"day":"9/10","cyt":"VEGF","v":1.2},{"day":"9/10","cyt":"GM CSF","v":1.2},
      {"day":"14","cyt":"IFN-γ","v":1.2},{"day":"14","cyt":"TNF-α","v":3},{"day":"14","cyt":"IL-1α","v":1},{"day":"14","cyt":"IL-1β","v":1.8},{"day":"14","cyt":"IL-2","v":7.5},{"day":"14","cyt":"IL-4","v":1.3},{"day":"14","cyt":"IL-5","v":1.3},{"day":"14","cyt":"IL-6","v":1.3},{"day":"14","cyt":"IL-10","v":1.3},{"day":"14","cyt":"IL-12","v":2},{"day":"14","cyt":"IL-13","v":1.2},{"day":"14","cyt":"IL-17","v":2.5},{"day":"14","cyt":"FGFb","v":1.5},{"day":"14","cyt":"IP10","v":1.3},{"day":"14","cyt":"KC","v":1.3},{"day":"14","cyt":"MCP-1","v":1.3},{"day":"14","cyt":"MIG","v":1.2},{"day":"14","cyt":"MIP-1α","v":1.3},{"day":"14","cyt":"VEGF","v":1.2},{"day":"14","cyt":"GM CSF","v":1.3},
      {"day":"21","cyt":"IFN-γ","v":1.2},{"day":"21","cyt":"TNF-α","v":2.5},{"day":"21","cyt":"IL-1α","v":1},{"day":"21","cyt":"IL-1β","v":1.5},{"day":"21","cyt":"IL-2","v":6.5},{"day":"21","cyt":"IL-4","v":1.3},{"day":"21","cyt":"IL-5","v":1.3},{"day":"21","cyt":"IL-6","v":1.3},{"day":"21","cyt":"IL-10","v":1.3},{"day":"21","cyt":"IL-12","v":1.3},{"day":"21","cyt":"IL-13","v":1.3},{"day":"21","cyt":"IL-17","v":1.8},{"day":"21","cyt":"FGFb","v":2},{"day":"21","cyt":"IP10","v":1.3},{"day":"21","cyt":"KC","v":1.3},{"day":"21","cyt":"MCP-1","v":1.3},{"day":"21","cyt":"MIG","v":1.3},{"day":"21","cyt":"MIP-1α","v":1.3},{"day":"21","cyt":"VEGF","v":1.3},{"day":"21","cyt":"GM CSF","v":1.3},
      {"day":"28","cyt":"IFN-γ","v":2.8},{"day":"28","cyt":"TNF-α","v":2.2},{"day":"28","cyt":"IL-1α","v":1.3},{"day":"28","cyt":"IL-1β","v":1.5},{"day":"28","cyt":"IL-2","v":1.8},{"day":"28","cyt":"IL-4","v":1.3},{"day":"28","cyt":"IL-5","v":1.3},{"day":"28","cyt":"IL-6","v":2.2},{"day":"28","cyt":"IL-10","v":1.3},{"day":"28","cyt":"IL-12","v":1.2},{"day":"28","cyt":"IL-13","v":1},{"day":"28","cyt":"IL-17","v":0.9},{"day":"28","cyt":"FGFb","v":0.7},{"day":"28","cyt":"IP10","v":2.5},{"day":"28","cyt":"KC","v":1.3},{"day":"28","cyt":"MCP-1","v":1.5},{"day":"28","cyt":"MIG","v":5},{"day":"28","cyt":"MIP-1α","v":1.3},{"day":"28","cyt":"VEGF","v":1.2},{"day":"28","cyt":"GM CSF","v":1.3},
      {"day":"61","cyt":"IFN-γ","v":1.3},{"day":"61","cyt":"TNF-α","v":2},{"day":"61","cyt":"IL-1α","v":1.5},{"day":"61","cyt":"IL-1β","v":1.3},{"day":"61","cyt":"IL-2","v":1.3},{"day":"61","cyt":"IL-4","v":1.3},{"day":"61","cyt":"IL-5","v":1.5},{"day":"61","cyt":"IL-6","v":1.3},{"day":"61","cyt":"IL-10","v":1.5},{"day":"61","cyt":"IL-12","v":0.8},{"day":"61","cyt":"IL-13","v":1.2},{"day":"61","cyt":"IL-17","v":0.9},{"day":"61","cyt":"FGFb","v":0.7},{"day":"61","cyt":"IP10","v":1.3},{"day":"61","cyt":"KC","v":1.5},{"day":"61","cyt":"MCP-1","v":1.3},{"day":"61","cyt":"MIG","v":1},{"day":"61","cyt":"MIP-1α","v":1.3},{"day":"61","cyt":"VEGF","v":1.3},{"day":"61","cyt":"GM CSF","v":1.3}
    ]
  },
  "spacing": 34.5,
  "resolve": {"scale": {"color": "independent"}, "legend": {"color": "independent"}},
  "vconcat": [
    {
      "spacing": 57,
      "resolve": {"scale": {"color": "independent"}, "legend": {"color": "independent"}},
      "hconcat": [
        {
          "title": "HBPUB10134 BALB/c Sera",
          "data": {"name": "hbBalb"},
          "width": 517, "height": 155,
          "mark": {"type": "rect", "stroke": "#000", "strokeWidth": 1},
          "encoding": {
            "x": {"field": "cyt", "type": "nominal", "sort": null},
            "y": {"field": "day", "type": "nominal", "sort": null},
            "color": {"field": "v", "type": "quantitative", "scale": {"domain": [0.5, 10, 50.2], "range": ["#32cd32", "#000000", "#d03838"], "interpolate": "rgb", "clamp": true}, "legend": {"gradientLength": 155, "values": [10, 20, 30, 40, 50], "labelOverlap": false, "labelBaseline": "middle"}}
          }
        },
        {
          "title": "HBPUB10134 C57 Sera",
          "data": {"name": "hbC57"},
          "width": 517, "height": 232,
          "mark": {"type": "rect", "stroke": "#000", "strokeWidth": 1},
          "encoding": {
            "x": {"field": "cyt", "type": "nominal", "sort": null},
            "y": {"field": "day", "type": "nominal", "sort": null},
            "color": {"field": "v", "type": "quantitative", "scale": {"domain": [0.5, 10, 50.2], "range": ["#32cd32", "#000000", "#d03838"], "interpolate": "rgb", "clamp": true}, "legend": {"gradientLength": 232, "values": [10, 20, 30, 40, 50], "labelOverlap": false, "labelBaseline": "middle"}}
          }
        }
      ]
    },
    {
      "spacing": 57,
      "resolve": {"scale": {"color": "independent"}, "legend": {"color": "independent"}},
      "hconcat": [
        {
          "title": "MSHR5855 BALB/c Sera",
          "data": {"name": "mshrBalb"},
          "width": 517, "height": 181,
          "mark": {"type": "rect", "stroke": "#000", "strokeWidth": 1},
          "encoding": {
            "x": {"field": "cyt", "type": "nominal", "sort": null},
            "y": {"field": "day", "type": "nominal", "sort": null},
            "color": {"field": "v", "type": "quantitative", "scale": {"domain": [0.5, 10, 50.2], "range": ["#32cd32", "#000000", "#d03838"], "interpolate": "rgb", "clamp": true}, "legend": {"gradientLength": 181, "values": [10, 20, 30, 40, 50], "labelOverlap": false, "labelBaseline": "middle"}}
          }
        },
        {
          "title": "MSHR5855 C57 Sera",
          "data": {"name": "mshrC57"},
          "width": 517, "height": 232,
          "mark": {"type": "rect", "stroke": "#000", "strokeWidth": 1},
          "encoding": {
            "x": {"field": "cyt", "type": "nominal", "sort": null},
            "y": {"field": "day", "type": "nominal", "sort": null},
            "color": {"field": "v", "type": "quantitative", "scale": {"domain": [0.5, 10, 50.2], "range": ["#32cd32", "#000000", "#d03838"], "interpolate": "rgb", "clamp": true}, "legend": {"gradientLength": 232, "values": [10, 20, 30, 40, 50], "labelOverlap": false, "labelBaseline": "middle"}}
          }
        }
      ]
    },
    {
      "spacing": 57,
      "resolve": {"scale": {"color": "independent"}, "legend": {"color": "independent"}},
      "hconcat": [
        {
          "title": "1106a BALB/c Sera",
          "data": {"name": "b1106Balb"},
          "width": 517, "height": 206,
          "mark": {"type": "rect", "stroke": "#000", "strokeWidth": 1},
          "encoding": {
            "x": {"field": "cyt", "type": "nominal", "sort": null},
            "y": {"field": "day", "type": "nominal", "sort": null},
            "color": {"field": "v", "type": "quantitative", "scale": {"domain": [0.5, 10, 50.2], "range": ["#32cd32", "#000000", "#d03838"], "interpolate": "rgb", "clamp": true}, "legend": {"gradientLength": 206, "values": [10, 20, 30, 40, 50], "labelOverlap": false, "labelBaseline": "middle"}}
          }
        },
        {
          "title": "1106a C57 Sera",
          "data": {"name": "b1106C57"},
          "width": 517, "height": 232,
          "mark": {"type": "rect", "stroke": "#000", "strokeWidth": 1},
          "encoding": {
            "x": {"field": "cyt", "type": "nominal", "sort": null},
            "y": {"field": "day", "type": "nominal", "sort": null},
            "color": {"field": "v", "type": "quantitative", "scale": {"domain": [0.5, 10, 50.2], "range": ["#32cd32", "#000000", "#d03838"], "interpolate": "rgb", "clamp": true}, "legend": {"gradientLength": 232, "values": [10, 20, 30, 40, 50], "labelOverlap": false, "labelBaseline": "middle"}}
          }
        }
      ]
    }
  ]
}
